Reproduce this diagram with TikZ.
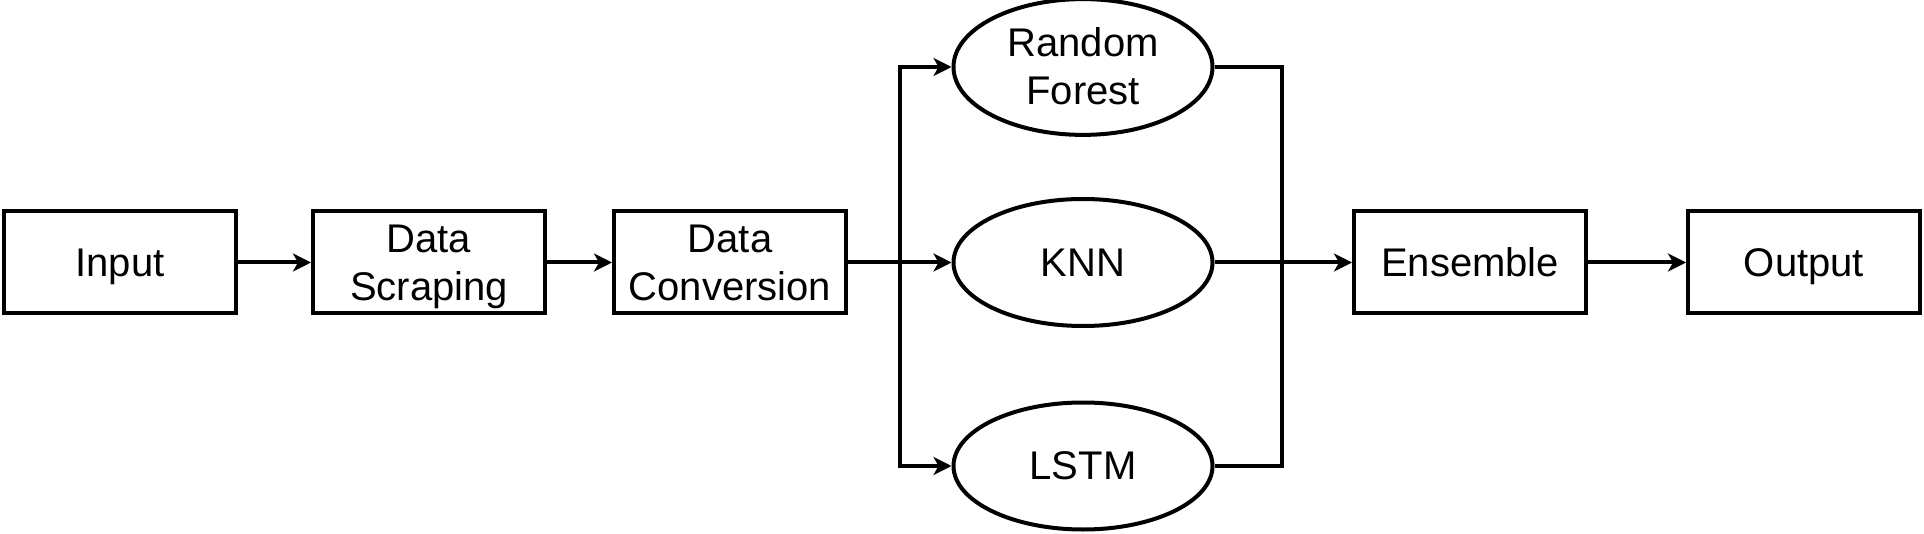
\documentclass[tikz,border=0pt]{standalone}
\usepackage{fontspec}
\setmainfont{Liberation Sans}
\usetikzlibrary{shapes.geometric,arrows.meta}
\newcommand{\lnstrut}{\rule[-10.14pt]{0pt}{48pt}}
\begin{document}
\begin{tikzpicture}[x=1pt,y=1pt,
  every node/.style={font=\fontsize{40}{48}\selectfont, align=center, inner sep=0pt},
  boxnode/.style={draw, line width=4pt, minimum width=232pt, minimum height=102pt},
  ellnode/.style={draw, ellipse, line width=4pt, minimum width=259pt, minimum height=127pt},
  ln/.style={line width=4pt},
  arr/.style={ln, -{Stealth[length=18pt,width=18pt,inset=5pt]}}]
\useasboundingbox (0,0) rectangle (1924,-534);
\node[boxnode] (inp) at (120,-262.5) {\lnstrut Input};
\node[boxnode] (scr) at (429,-262.5) {\lnstrut Data\\Scraping\lnstrut};
\node[boxnode] (conv) at (730,-262.5) {\lnstrut Data\\Conversion\lnstrut};
\node[ellnode] (rf) at (1083,-67) {\lnstrut Random\\Forest\lnstrut};
\node[ellnode] (knn) at (1083,-262.5) {\lnstrut KNN};
\node[ellnode] (lstm) at (1083,-466) {\lnstrut LSTM};
\node[boxnode] (ens) at (1470,-262.5) {\lnstrut Ensemble};
\node[boxnode] (out) at (1804,-262.5) {\lnstrut Output};
\coordinate (split) at (900,-262.5);
\coordinate (merge) at (1282,-262.5);
\draw[arr] (inp) -- (scr);
\draw[arr] (scr) -- (conv);
\draw[arr] (conv) -- (knn);
\draw[arr] (split) |- (rf.west);
\draw[arr] (split) |- (lstm.west);
\draw[ln] (rf.east) -| (merge);
\draw[ln] (lstm.east) -| (merge);
\draw[arr] (knn) -- (ens);
\draw[arr] (ens) -- (out);
\end{tikzpicture}
\end{document}
